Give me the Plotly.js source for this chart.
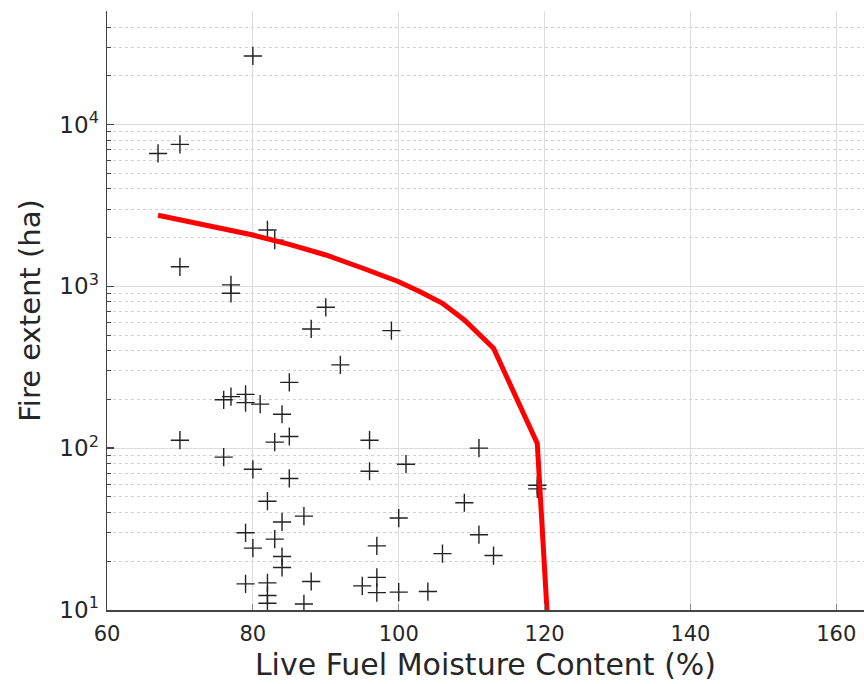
<!DOCTYPE html>
<html>
<head>
<meta charset="utf-8">
<script src="https://cdn.plot.ly/plotly-3.0.1.min.js"></script>
<style>html,body{margin:0;padding:0;background:#fff;}#chart{width:864px;height:684px;}</style>
</head>
<body>
<div id="chart"></div>
<script>
// Observed fires: live fuel moisture content (%) and fire extent (ha)
const fireLFMC = [80, 67, 70, 82, 83, 70, 77, 77, 90, 88, 99, 92, 85, 79, 77, 76, 79, 81, 84,
  70, 83, 85, 96, 76, 80, 96, 85, 82, 87, 84, 79, 83, 80, 97, 84, 84, 79, 82, 82, 82,
  88, 87, 95, 97, 97, 100, 111, 101, 119, 119, 109, 100, 111, 106, 113, 104];
const fireExtent = [26500, 6620, 7530, 2230, 1930, 1320, 1020, 905, 742, 545, 532, 327, 255, 215, 208, 199, 191, 187, 162,
  112, 109, 118, 112, 88, 74, 72, 65, 47, 38, 35, 30, 27.4, 24.1, 24.9, 21.4, 18.3, 14.5, 14.7, 12.3, 11.0,
  15.0, 10.9, 14.1, 15.9, 12.8, 12.9, 100, 79.6, 59, 56, 46, 37, 29.2, 22.3, 21.7, 13.0];

// Fitted upper-bound curve
const curveLFMC = [67, 70, 75, 80, 85, 90, 95, 100, 103, 106, 109, 111, 113, 119, 121];
const curveExtent = [2750, 2576, 2307, 2073, 1815, 1561, 1297, 1067, 923, 785, 619, 500, 414, 107, 3];

// Axis tick labels
const xTickVals = [60, 80, 100, 120, 140, 160];
const yTickVals = [10, 100, 1000, 10000];
const yTickText = ['10<sup>1</sup>', '10<sup>2</sup>', '10<sup>3</sup>', '10<sup>4</sup>'];

const traces = [
  {
    x: fireLFMC, y: fireExtent, type: 'scatter', mode: 'markers',
    marker: {symbol: 'cross-thin', size: 13, color: '#222', line: {width: 1.4, color: '#222'}},
    hoverinfo: 'x+y', cliponaxis: true
  },
  {
    x: curveLFMC, y: curveExtent, type: 'scatter', mode: 'lines',
    line: {color: '#ff0000', width: 5}, cliponaxis: true
  }
];

const layout = {
  width: 864, height: 684,
  margin: {l: 107, r: 0, t: 11, b: 74, pad: 0},
  paper_bgcolor: '#fff', plot_bgcolor: '#fff',
  showlegend: false,
  font: {family: 'DejaVu Sans, sans-serif', color: '#262626'},
  xaxis: {
    range: [60, 163.8], tickmode: 'array', tickvals: xTickVals,
    ticks: 'inside', ticklen: 6, tickcolor: '#888', tickwidth: 1,
    showline: true, linecolor: '#444', linewidth: 1.5,
    showgrid: true, gridcolor: '#dcdcdc', gridwidth: 1,
    zeroline: false, ticklabelstandoff: 4,
    tickfont: {size: 21, family: 'DejaVu Sans', color: '#262626'},
    title: {text: 'Live Fuel Moisture Content (%)', font: {size: 30, family: 'DejaVu Sans', color: '#262626'}, standoff: 9}
  },
  yaxis: {
    type: 'log', range: [1, 4.701], tickmode: 'array', tickvals: yTickVals, ticktext: yTickText,
    ticks: 'inside', ticklen: 7, tickcolor: '#444', tickwidth: 1.5,
    showline: true, linecolor: '#444', linewidth: 1.5,
    showgrid: true, gridcolor: '#dcdcdc', gridwidth: 1,
    zeroline: false, ticklabelstandoff: 2,
    tickfont: {size: 23, family: 'DejaVu Sans', color: '#262626'},
    title: {text: 'Fire extent (ha)', font: {size: 29, family: 'DejaVu Sans', color: '#262626'}, standoff: 10},
    minor: {dtick: 'D1', ticks: 'inside', ticklen: 4, tickcolor: '#444', tickwidth: 1,
            showgrid: true, gridcolor: '#cfcfcf', griddash: 'dot', gridwidth: 1}
  }
};

Plotly.newPlot('chart', traces, layout, {displayModeBar: false, staticPlot: true});
</script>
</body>
</html>
